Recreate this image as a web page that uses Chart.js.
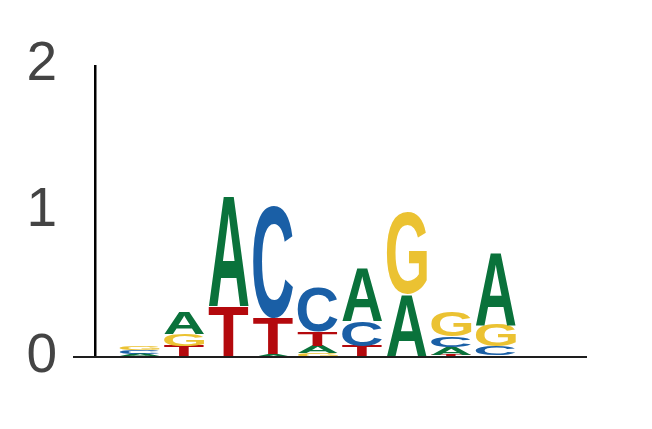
<!DOCTYPE html>
<html lang="en">
<head>
    <meta charset="UTF-8">
    <title>Sequence logo</title>
    <script src="https://cdn.jsdelivr.net/npm/chart.js"></script>
    <style>
        html, body {
            margin: 0;
            padding: 0;
            background: #ffffff;
        }

        #box {
            width: 652px;
            height: 429px;
        }
    </style>
</head>
<body>

    <div id="box"><canvas id="logo"></canvas></div>

    <script>
        // positions in the motif and the height (bits) of each base
        const positions = [1, 2, 3, 4, 5, 6, 7, 8, 9];
        const heightA = [0.018, 0.15, 0.76, 0.02, 0.05, 0.36, 0.43, 0.05, 0.50];
        const heightC = [0.022, 0.0, 0.0, 0.77, 0.31, 0.17, 0.0, 0.075, 0.06];
        const heightG = [0.03, 0.08, 0.0, 0.0, 0.025, 0.0, 0.555, 0.17, 0.15];
        const heightT = [0.005, 0.075, 0.35, 0.25, 0.10, 0.075, 0.0, 0.015, 0.01];
        const yTicks = [0, 1, 2];

        const baseColors = {
            A: '#0a723b',
            C: '#1a5fa6',
            G: '#ebc232',
            T: '#b4090d'
        };

        const letterWidth = 0.9;

        // draws one letter stretched into a box, box given in pixels
        function drawLetter(ctx, letter, left, right, top, bottom) {
            if (bottom - top < 0.3) return;
            ctx.save();
            ctx.font = 'bold 100px "Liberation Sans"';
            ctx.textBaseline = 'alphabetic';
            ctx.textAlign = 'left';
            const m = ctx.measureText(letter);
            const gw = m.actualBoundingBoxLeft + m.actualBoundingBoxRight;
            const gh = m.actualBoundingBoxAscent + m.actualBoundingBoxDescent;
            ctx.translate(left, top);
            ctx.scale((right - left) / gw, (bottom - top) / gh);
            ctx.fillStyle = baseColors[letter];
            ctx.fillText(letter, m.actualBoundingBoxLeft, m.actualBoundingBoxAscent);
            ctx.restore();
        }

        const logoPlugin = {
            id: 'logoLetters',
            afterDatasetsDraw(chart) {
                const ctx = chart.ctx;
                const xs = chart.scales.x;
                const ys = chart.scales.y;

                positions.forEach((pos, i) => {
                    const stack = [
                        ['A', heightA[i]],
                        ['C', heightC[i]],
                        ['G', heightG[i]],
                        ['T', heightT[i]]
                    ].filter(d => d[1] > 0).sort((a, b) => a[1] - b[1]);

                    const left = xs.getPixelForValue(pos - letterWidth / 2);
                    const right = xs.getPixelForValue(pos + letterWidth / 2);
                    let cum = 0;
                    for (const [letter, h] of stack) {
                        const bottom = ys.getPixelForValue(cum);
                        const top = ys.getPixelForValue(cum + h);
                        drawLetter(ctx, letter, left, right, top, bottom);
                        cum += h;
                    }
                });

                // axis lines: y axis sits at x = 0, x axis runs the full width
                const x0 = xs.getPixelForValue(0);
                const y0 = ys.getPixelForValue(0);
                ctx.save();
                ctx.strokeStyle = '#000000';
                ctx.lineWidth = 2.5;
                ctx.beginPath();
                ctx.moveTo(x0, ys.getPixelForValue(2));
                ctx.lineTo(x0, y0);
                ctx.stroke();
                ctx.strokeStyle = '#1e1e1e';
                ctx.lineWidth = 2;
                ctx.beginPath();
                ctx.moveTo(chart.chartArea.left, y0);
                ctx.lineTo(chart.chartArea.right, y0);
                ctx.stroke();
                ctx.restore();
            }
        };

        new Chart(document.getElementById('logo'), {
            type: 'scatter',
            data: {
                datasets: [{
                    data: positions.map(p => ({ x: p, y: 0 })),
                    pointRadius: 0,
                    pointHoverRadius: 0
                }]
            },
            options: {
                responsive: true,
                maintainAspectRatio: false,
                animation: false,
                events: [],
                layout: {
                    padding: { top: 65, bottom: 72, left: 0, right: 65 }
                },
                plugins: {
                    legend: { display: false },
                    tooltip: { enabled: false }
                },
                scales: {
                    x: {
                        type: 'linear',
                        min: -0.5,
                        max: 11.05,
                        display: false
                    },
                    y: {
                        min: 0,
                        max: 2,
                        afterBuildTicks(scale) {
                            scale.ticks = yTicks.map(v => ({ value: v }));
                        },
                        afterFit(scale) {
                            scale.width = 73;
                        },
                        grid: { display: false, drawTicks: false },
                        border: { display: false },
                        ticks: {
                            padding: 16,
                            color: '#444444',
                            font: { family: '"Liberation Sans"', size: 55 }
                        }
                    }
                }
            },
            plugins: [logoPlugin]
        });
    </script>

</body>
</html>
